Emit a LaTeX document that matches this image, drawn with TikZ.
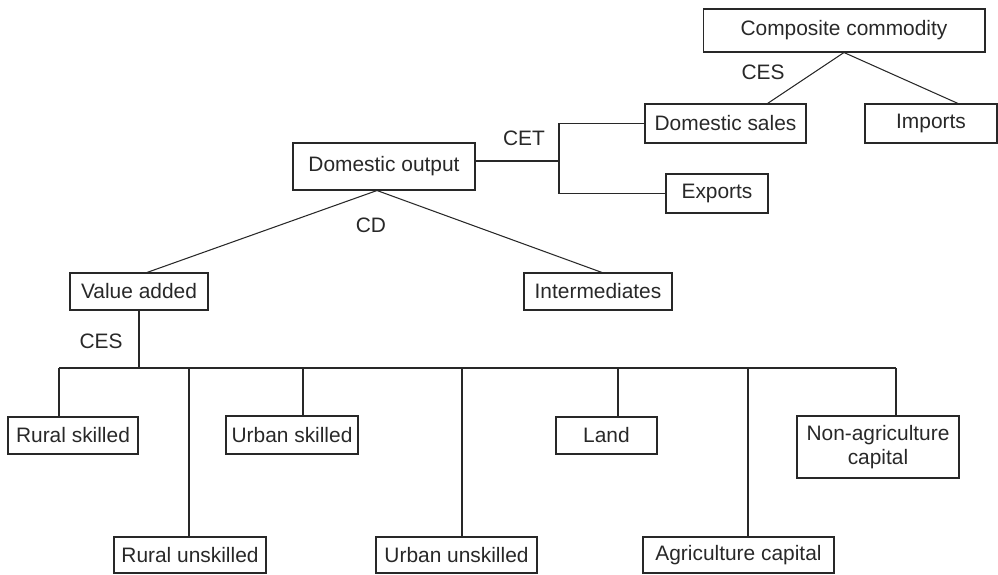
\documentclass[tikz,border=0pt]{standalone}
\usepackage{fontspec}
\setmainfont{Liberation Sans}
\usetikzlibrary{calc}
\definecolor{ink}{RGB}{40,40,40}

\begin{document}
\begin{tikzpicture}[
        x=0.02cm, y=-0.02cm,
        box/.style={draw=ink, line width=0.6pt, inner sep=0pt, align=center,
                    minimum height=0.74cm, font=\fontsize{11.9}{13.5}\selectfont, text=ink},
        lbl/.style={font=\fontsize{11.9}{13.5}\selectfont, text=ink},
        link/.style={draw=ink, line width=0.6pt},
      ]
      \useasboundingbox (0,0) rectangle (998,575);
      % import / export nesting
      \node[box, minimum width=5.64cm, minimum height=0.86cm] (comp) at (844,30.5) {Composite commodity};
      \node[box, minimum width=3.22cm, minimum height=0.78cm] (dsales) at (725.5,123.5) {Domestic sales};
      \node[box, minimum width=2.64cm, minimum height=0.78cm] (imports) at (931,123.5) {Imports};
      \node[box, minimum width=3.64cm, minimum height=0.94cm] (dout) at (384,166.5) {Domestic output};
      \node[box, minimum width=2.04cm, minimum height=0.78cm] (exports) at (717,193.5) {Exports};
      % production
      \node[box, minimum width=2.76cm] (vadd) at (139,291.5) {Value added};
      \node[box, minimum width=2.96cm] (inter) at (598,291.5) {Intermediates};
      % factors
      \node[box, minimum width=2.6cm] (rskill) at (73,435.5) {Rural skilled};
      \node[box, minimum width=2.64cm, minimum height=0.76cm] (uskill) at (292,435) {Urban skilled};
      \node[box, minimum width=2.02cm] (land) at (606.5,435.5) {Land};
      \node[box, minimum width=3.24cm, minimum height=1.24cm] (nonagri) at (878,447) {Non-agriculture\\ capital};
      \node[box, minimum width=3.04cm, minimum height=0.72cm] (runskill) at (190,555) {Rural unskilled};
      \node[box, minimum width=3.22cm, minimum height=0.72cm] (uunskill) at (456.5,555) {Urban unskilled};
      \node[box, minimum width=3.82cm, minimum height=0.72cm] (agcap) at (738.5,555) {Agriculture capital};

      \draw[link] (comp.south) -- ($(dsales.north)+(42,0)$);
      \draw[link] (comp.south) -- ($(imports.north)+(27,0)$);
      \node[lbl] (ces1) at (763,72) {CES};

      \coordinate (cetj) at (559,161);
      \draw[link] (dout.east |- cetj) -- (cetj);
      \draw[link] (dsales.west) -| (cetj) |- (exports.west);
      \node[lbl] (cet) at (524,138) {CET};

      \draw[link] ($(dout.south)+(-7,0)$) -- ($(vadd.north)+(8,0)$);
      \draw[link] ($(dout.south)+(-7,0)$) -- ($(inter.north)+(4,0)$);
      \node[lbl] (cd) at (371,225) {CD};

      \coordinate (bar) at (138,368);
      \draw[link] (vadd.south) -- (vadd.south |- bar);
      \node[lbl] (ces2) at (101,341) {CES};
      \foreach \n/\x in {rskill/59, runskill/189, uskill/303, uunskill/462, land/618, agcap/748, nonagri/896} {
        \coordinate (t-\n) at (\x,368);
        \draw[link] (t-\n) -- (t-\n |- \n.north);
      }
      \draw[link] (t-rskill) -- (t-nonagri);
    \end{tikzpicture}
\end{document}
